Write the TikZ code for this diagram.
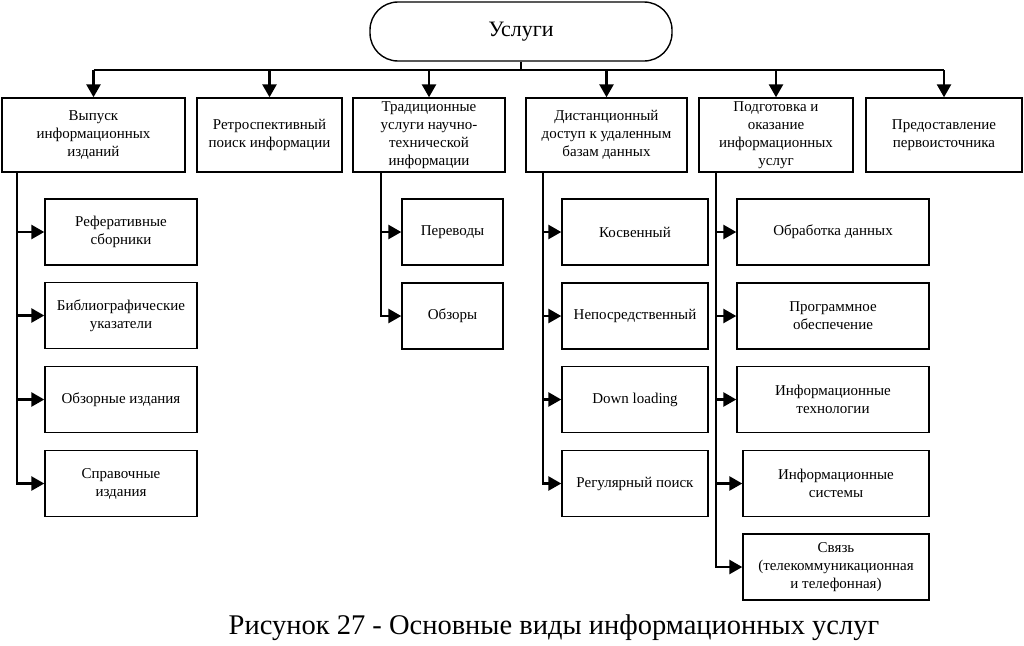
\documentclass[tikz,border=0pt]{standalone}
\usepackage{fontspec}
\setmainfont{Liberation Serif}
\usetikzlibrary{arrows.meta,positioning}

\begin{document}
\begin{tikzpicture}[
            x=1pt, y=-1pt,
            box/.style={draw, line width=1.4pt, align=center, inner sep=0pt, font=\fontsize{15}{18}\selectfont, minimum height=66pt},
            topbox/.style={box, minimum height=74pt},
            link/.style={line width=2.6pt},
            arrow/.style={link, -{Triangle[length=13pt, width=14pt]}}
        ]
        \useasboundingbox (0,0) rectangle (1024,645);
        \node[draw, line width=1.4pt, rounded corners=28pt, minimum width=302pt, minimum height=59pt, font=\fontsize{22}{26}\selectfont] (uslugi) at (521,31.5) {Услуги};
        % first level
        \node[topbox, minimum width=183pt] (vypusk) at (93.5,135) {Выпуск\\информационных\\изданий};
        \node[topbox, minimum width=145pt] (retro) at (269.5,135) {Ретроспективный\\поиск информации};
        \node[topbox, minimum width=152pt] (tradic) at (429,135) {Традиционные\\услуги научно-\\технической\\информации};
        \node[topbox, minimum width=161pt] (dist) at (606.5,135) {Дистанционный\\доступ к удаленным\\базам данных};
        \node[topbox, minimum width=154pt] (podg) at (776,135) {Подготовка и\\оказание\\информационных\\услуг};
        \node[topbox, minimum width=156pt] (pervo) at (944,135) {Предоставление\\первоисточника};
        % second level
        \node[box, minimum width=152pt] (refer) at (121,232) {Реферативные\\сборники};
        \node[box, minimum width=152pt] (biblio) at (121,315.5) {Библиографические\\указатели};
        \node[box, minimum width=152pt] (obzizd) at (121,399.5) {Обзорные издания};
        \node[box, minimum width=152pt] (sprav) at (121,483.5) {Справочные\\издания};
        \node[box, minimum width=101pt] (perev) at (452.5,232) {Переводы};
        \node[box, minimum width=101pt] (obzory) at (452.5,316) {Обзоры};
        \node[box, minimum width=146pt] (kosv) at (635,232) {Косвенный};
        \node[box, minimum width=146pt] (neposr) at (635,316) {Непосредственный};
        \node[box, minimum width=146pt] (down) at (635,399.5) {Down loading};
        \node[box, minimum width=146pt] (regul) at (635,483.5) {Регулярный поиск};
        \node[box, minimum width=192pt] (obrab) at (833,232) {Обработка данных};
        \node[box, minimum width=192pt] (progr) at (833,316) {Программное\\обеспечение};
        \node[box, minimum width=192pt] (itech) at (833,399.5) {Информационные\\технологии};
        \node[box, minimum width=186pt] (isist) at (836,483.5) {Информационные\\системы};
        \node[box, minimum width=186pt] (svyaz) at (836,567) {Связь\\(телекоммуникационная\\и телефонная)};
        \node[font=\fontsize{28.5}{34}\selectfont] (caption) at (554,628) {Рисунок 27 - Основные виды информационных услуг};
        % bus and trunks
        \coordinate (bus) at (521,70);
        \coordinate (t1) at (17,172);
        \coordinate (t3) at (381,172);
        \coordinate (t4) at (543,172);
        \coordinate (t5) at (716,172);
        \draw[link] (uslugi.south) -- (bus);
        \draw[link] (vypusk.north |- bus) -- (pervo.north |- bus);
        \foreach \n in {vypusk,retro,tradic,dist,podg,pervo}
            \draw[arrow] (\n.north |- bus) -- (\n.north);
        \foreach \n in {refer,biblio,obzizd,sprav}
            \draw[arrow] (t1) |- (\n.west);
        \foreach \n in {perev,obzory}
            \draw[arrow] (t3) |- (\n.west);
        \foreach \n in {kosv,neposr,down,regul}
            \draw[arrow] (t4) |- (\n.west);
        \foreach \n in {obrab,progr,itech,isist,svyaz}
            \draw[arrow] (t5) |- (\n.west);
        \end{tikzpicture}
\end{document}
